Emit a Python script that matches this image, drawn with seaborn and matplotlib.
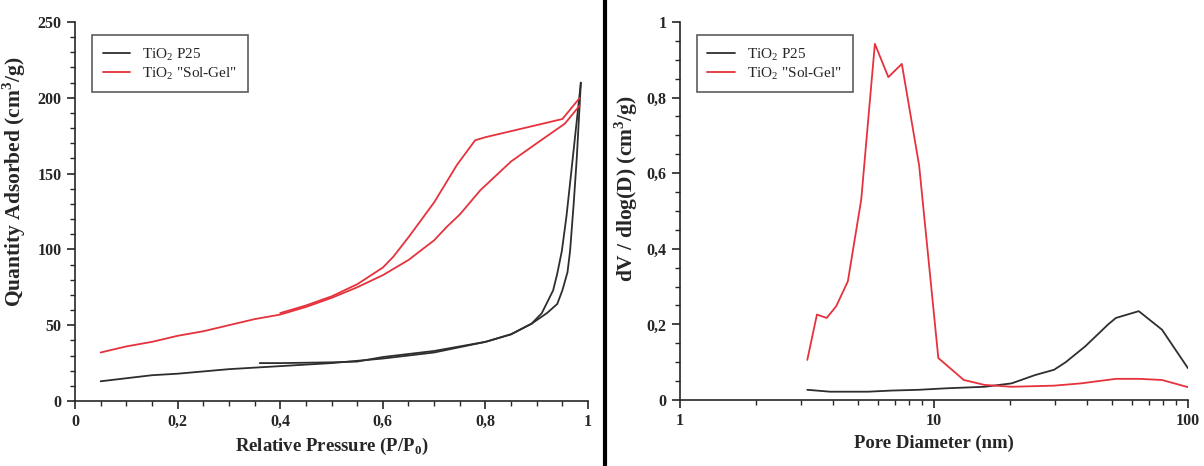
import numpy as np
import pandas as pd
import seaborn as sns
import matplotlib.pyplot as plt
from matplotlib.lines import Line2D
from matplotlib.ticker import MultipleLocator, FixedLocator, FixedFormatter, NullFormatter

# --- isotherm data (left) ---
p25_ads_x = [0.05, 0.1, 0.15, 0.2, 0.3, 0.4, 0.5, 0.6, 0.7, 0.8, 0.85, 0.89, 0.92, 0.94, 0.95, 0.96, 0.965, 0.972, 0.978, 0.986]
p25_ads_y = [13, 15, 17, 18, 21, 23, 25, 28, 32, 39, 44, 51, 58, 64, 73, 85, 99, 130, 160, 210]
p25_des_x = [0.986, 0.967, 0.958, 0.949, 0.94, 0.932, 0.91, 0.89, 0.85, 0.8, 0.7, 0.6, 0.55, 0.5, 0.4, 0.36]
p25_des_y = [210, 150, 122, 99, 84, 73, 58, 51, 44, 39, 33, 29, 26, 25.5, 25, 25]

sg_ads_x = [0.05, 0.1, 0.15, 0.2, 0.25, 0.3, 0.35, 0.4, 0.45, 0.5, 0.55, 0.6, 0.65, 0.7, 0.725, 0.75, 0.79, 0.85, 0.9, 0.955, 0.984]
sg_ads_y = [32, 36, 39, 43, 46, 50, 54, 57, 62, 68, 75, 83, 93, 106, 115, 123, 139, 158, 170, 183, 195]
sg_des_x = [0.984, 0.95, 0.9, 0.85, 0.8, 0.78, 0.745, 0.7, 0.65, 0.62, 0.6, 0.55, 0.5, 0.45, 0.4]
sg_des_y = [200, 186, 182, 178, 174, 172, 156, 131, 108, 95, 88, 77, 69, 63, 58]

# --- pore size distribution (right) ---
p25_d = [3.17, 3.9, 5.5, 6.8, 8.7, 11.2, 15.8, 20.2, 25, 29.7, 33, 39.4, 48.5, 52, 64, 79, 100]
p25_v = [0.027, 0.022, 0.022, 0.025, 0.027, 0.031, 0.035, 0.044, 0.066, 0.08, 0.10, 0.142, 0.2, 0.217, 0.235, 0.186, 0.084]
sg_d = [3.17, 3.46, 3.78, 4.12, 4.58, 5.17, 5.85, 6.61, 7.47, 8.74, 10.4, 13.1, 15.8, 20.2, 29.7, 37.9, 52, 64, 79, 100]
sg_v = [0.106, 0.226, 0.217, 0.248, 0.314, 0.53, 0.942, 0.854, 0.889, 0.62, 0.111, 0.053, 0.04, 0.035, 0.038, 0.044, 0.056, 0.056, 0.053, 0.034]

labels = ["TiO$_2$ P25", 'TiO$_2$ "Sol-Gel"']
black = "#2e2e2e"
red = "#e5323c"

sns.set_style("ticks")
plt.rcParams["font.family"] = ["Liberation Serif", "DejaVu Serif"]
plt.rcParams["mathtext.fontset"] = "custom"
plt.rcParams["mathtext.rm"] = "Liberation Serif"
plt.rcParams["mathtext.bf"] = "Liberation Serif:bold"
plt.rcParams["axes.linewidth"] = 1.2

fig = plt.figure(figsize=(12.04, 4.66), dpi=100)
ax1 = fig.add_axes([0.0623, 0.1395, 0.4261, 0.8133])
ax2 = fig.add_axes([0.5648, 0.1416, 0.4219, 0.8114])


def branch(ax, x, y, color):
    df = pd.DataFrame({"x": x, "y": y})
    sns.lineplot(data=df, x="x", y="y", ax=ax, color=color, lw=1.3, sort=False, estimator=None)


branch(ax1, p25_ads_x, p25_ads_y, black)
branch(ax1, p25_des_x, p25_des_y, black)
branch(ax1, sg_ads_x, sg_ads_y, red)
branch(ax1, sg_des_x, sg_des_y, red)

branch(ax2, p25_d, p25_v, black)
branch(ax2, sg_d, sg_v, red)

# left axes
ax1.set_xlim(0, 1)
ax1.set_ylim(0, 250)
ax1.xaxis.set_major_locator(FixedLocator([0, 0.2, 0.4, 0.6, 0.8, 1]))
ax1.xaxis.set_major_formatter(FixedFormatter(["0", "0,2", "0,4", "0,6", "0,8", "1"]))
ax1.xaxis.set_minor_locator(MultipleLocator(0.05))
ax1.yaxis.set_major_locator(MultipleLocator(50))
ax1.yaxis.set_minor_locator(MultipleLocator(10))
ax1.set_xlabel("Relative Pressure (P/P$_\\mathbf{0}$)", fontsize=13.5, fontweight="bold", labelpad=4)
ax1.set_ylabel("Quantity Adsorbed (cm$^\\mathbf{3}$/g)", fontsize=15.5, fontweight="bold")
ax1.yaxis.set_label_coords(-0.092, 0.58)

# right axes
ax2.set_xscale("log")
ax2.set_xlim(1, 100)
ax2.set_ylim(0, 1)
ax2.xaxis.set_major_locator(FixedLocator([1, 10, 100]))
ax2.xaxis.set_major_formatter(FixedFormatter(["1", "10", "100"]))
ax2.xaxis.set_minor_locator(FixedLocator([a * b for b in (1, 10) for a in range(2, 10)]))
ax2.xaxis.set_minor_formatter(NullFormatter())
ax2.yaxis.set_major_locator(FixedLocator([0, 0.2, 0.4, 0.6, 0.8, 1]))
ax2.yaxis.set_major_formatter(FixedFormatter(["0", "0,2", "0,4", "0,6", "0,8", "1"]))
ax2.yaxis.set_minor_locator(MultipleLocator(0.05))
ax2.set_xlabel("Pore Diameter (nm)", fontsize=13.5, fontweight="bold", labelpad=4)
ax2.set_ylabel("dV / dlog(D) (cm$^\\mathbf{3}$/g)", fontsize=15.5, fontweight="bold")
ax2.yaxis.set_label_coords(-0.079, 0.56)

for ax in (ax1, ax2):
    sns.despine(ax=ax)
    ax.tick_params(which="major", length=6, width=1.2, direction="out")
    ax.tick_params(which="minor", length=3.5, width=1.0, direction="out")
    for t in ax.get_xticklabels() + ax.get_yticklabels():
        t.set_fontsize(11.5)
        t.set_fontweight("bold")
    handles = [Line2D([], [], color=black, lw=1.3), Line2D([], [], color=red, lw=1.3)]
    leg = ax.legend(handles, labels, loc="upper left", bbox_to_anchor=(0.018, 0.985),
                    fontsize=11, frameon=True, fancybox=False, edgecolor="#333333",
                    handlelength=1.8, borderpad=0.7, labelspacing=0.15)
    leg.get_frame().set_linewidth(1.2)

fig.add_artist(Line2D([0.5025, 0.5025], [0, 1], color="black", lw=3))

fig.savefig("out.png", dpi=100)
